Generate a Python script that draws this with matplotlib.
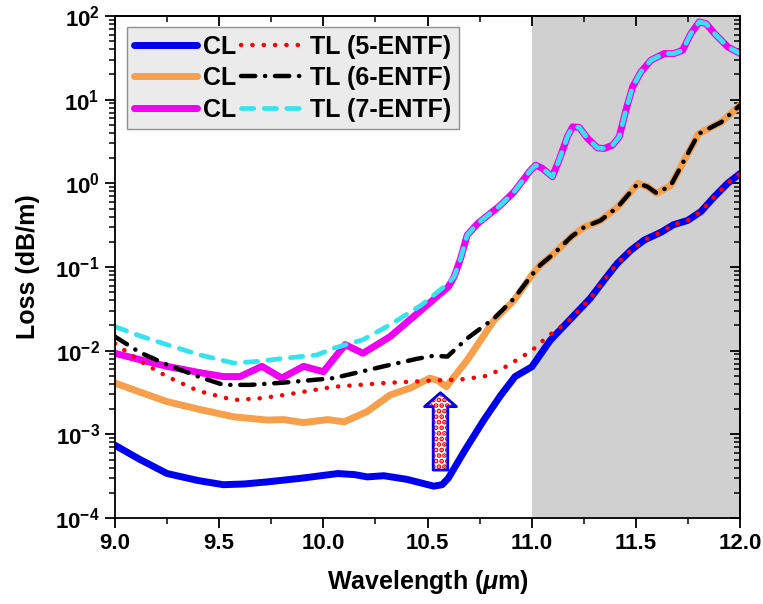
import numpy as np
import matplotlib.pyplot as plt
from matplotlib.ticker import FixedLocator, NullFormatter, FuncFormatter

plt.rcParams['font.family'] = ['Liberation Sans', 'DejaVu Sans']
plt.rcParams['font.weight'] = 'bold'
plt.rcParams['mathtext.fontset'] = 'custom'
plt.rcParams['mathtext.rm'] = 'Liberation Sans:bold'
plt.rcParams['mathtext.bf'] = 'Liberation Sans:bold'
plt.rcParams['mathtext.it'] = 'Liberation Sans:bold:italic'
plt.rcParams['hatch.linewidth'] = 2.5

# CL 5-ENTF (blue)
x_cl5 = [9.0, 9.12, 9.25, 9.4, 9.52, 9.62, 9.73, 9.9, 10.07, 10.15, 10.21, 10.29, 10.4,
         10.53, 10.57, 10.6, 10.68, 10.77, 10.85, 10.92, 11.0, 11.09, 11.18, 11.28, 11.348, 11.41,
         11.476, 11.54, 11.62, 11.68, 11.748, 11.812, 11.876, 11.94, 12.0]
y_cl5 = [7.4e-4, 5.0e-4, 3.4e-4, 2.8e-4, 2.5e-4, 2.55e-4, 2.7e-4, 3.0e-4, 3.4e-4, 3.3e-4, 3.1e-4, 3.2e-4, 2.9e-4,
         2.4e-4, 2.5e-4, 3.0e-4, 6.5e-4, 1.48e-3, 2.9e-3, 4.9e-3, 6.4e-3, 1.34e-2, 2.3e-2, 4.2e-2, 7.0e-2, 0.11,
         0.159, 0.21, 0.26, 0.32, 0.36, 0.46, 0.69, 1.0, 1.31]

# TL 5-ENTF (red dotted)
x_tl5 = [9.0, 9.12, 9.25, 9.4, 9.57, 9.7, 9.81, 10.05, 10.29, 10.53, 10.65, 10.77, 10.85, 10.915,
         11.0, 11.075, 11.18, 11.28, 11.348, 11.41, 11.476, 11.54, 11.62, 11.68, 11.748, 11.812,
         11.876, 11.94, 12.0]
y_tl5 = [1.22e-2, 7.5e-3, 4.9e-3, 3.3e-3, 2.57e-3, 2.7e-3, 2.95e-3, 3.7e-3, 4.1e-3, 4.4e-3, 4.5e-3, 4.9e-3, 5.9e-3, 7.4e-3,
         1.0e-2, 1.47e-2, 2.3e-2, 4.2e-2, 7.0e-2, 0.11, 0.159, 0.21, 0.26, 0.32, 0.36, 0.46,
         0.69, 1.0, 1.31]

# CL 6-ENTF (orange)
x_cl6 = [9.0, 9.12, 9.25, 9.4, 9.57, 9.73, 9.81, 9.905, 10.02, 10.1, 10.21, 10.32, 10.42, 10.51,
         10.55, 10.59, 10.69, 10.82, 10.915, 11.0, 11.04, 11.107, 11.19, 11.252, 11.33, 11.412, 11.51,
         11.556, 11.6, 11.668, 11.732, 11.8, 11.91, 12.0]
y_cl6 = [4.1e-3, 3.2e-3, 2.46e-3, 2.0e-3, 1.62e-3, 1.48e-3, 1.5e-3, 1.38e-3, 1.5e-3, 1.41e-3, 1.87e-3, 2.95e-3, 3.6e-3, 4.7e-3,
         4.4e-3, 3.7e-3, 7.7e-3, 2.33e-2, 4.0e-2, 8.0e-2, 0.105, 0.145, 0.23, 0.30, 0.36, 0.52, 1.0,
         0.91, 0.76, 0.95, 1.89, 3.9, 5.4, 8.6]

# TL 6-ENTF (black dash-dot)
x_tl6 = [9.0, 9.12, 9.25, 9.4, 9.52, 9.65, 9.81, 10.05, 10.29, 10.45, 10.53, 10.595, 10.69, 10.82,
         10.915, 11.0, 11.04, 11.107, 11.19, 11.252, 11.33, 11.412, 11.51, 11.556, 11.6, 11.668,
         11.732, 11.8, 11.91, 12.0]
y_tl6 = [1.47e-2, 9.5e-3, 6.8e-3, 4.9e-3, 3.9e-3, 3.9e-3, 4.15e-3, 4.7e-3, 6.5e-3, 8.0e-3, 8.7e-3, 8.5e-3, 1.4e-2, 2.44e-2,
         4.2e-2, 8.0e-2, 0.105, 0.145, 0.23, 0.30, 0.36, 0.52, 1.0, 0.91, 0.76, 0.95,
         1.89, 3.9, 5.4, 8.6]

# CL 7-ENTF (magenta)
x_cl7 = [9.0, 9.12, 9.25, 9.4, 9.52, 9.6, 9.705, 9.8, 9.905, 10.0, 10.05, 10.105, 10.19, 10.32,
         10.47, 10.6, 10.627, 10.659, 10.69, 10.74, 10.851, 10.915, 10.995, 11.019, 11.051, 11.099,
         11.131, 11.171, 11.196, 11.228, 11.268, 11.316, 11.348, 11.388, 11.42, 11.452, 11.484, 11.524,
         11.572, 11.636, 11.684, 11.724, 11.764, 11.804, 11.837, 11.877, 11.941, 12.0]
y_cl7 = [9.3e-3, 7.8e-3, 6.5e-3, 5.5e-3, 4.9e-3, 4.9e-3, 6.5e-3, 4.7e-3, 6.5e-3, 5.6e-3, 8.0e-3, 1.18e-2, 9.3e-3, 1.47e-2,
         3.06e-2, 5.8e-2, 7.6e-2, 0.127, 0.24, 0.33, 0.55, 0.79, 1.44, 1.65, 1.51, 1.2,
         1.89, 3.6, 4.73, 4.66, 3.44, 2.65, 2.61, 2.86, 3.6, 7.5, 14.2, 21.5,
         29.6, 35.6, 35.6, 39.0, 61.8, 85.0, 81.0, 61.8, 42.7, 35.6]

# TL 7-ENTF (cyan dashed)
x_tl7 = [9.0, 9.12, 9.25, 9.4, 9.57, 9.7, 9.81, 9.97, 10.05, 10.19, 10.32, 10.47, 10.6, 10.627,
         10.659, 10.69, 10.74, 10.851, 10.915, 10.995, 11.019, 11.051, 11.099, 11.131, 11.171, 11.196,
         11.228, 11.268, 11.316, 11.348, 11.388, 11.42, 11.452, 11.484, 11.524, 11.572, 11.636, 11.684,
         11.724, 11.764, 11.804, 11.837, 11.877, 11.941, 12.0]
y_tl7 = [1.94e-2, 1.5e-2, 1.18e-2, 9.0e-3, 7.1e-3, 7.5e-3, 8.1e-3, 8.9e-3, 1.07e-2, 1.35e-2, 2.04e-2, 3.5e-2, 6.4e-2, 7.6e-2,
         0.127, 0.24, 0.33, 0.55, 0.79, 1.44, 1.65, 1.51, 1.2, 1.89, 3.6, 4.73,
         4.66, 3.44, 2.65, 2.61, 2.86, 3.6, 7.5, 14.2, 21.5, 29.6, 35.6, 35.6,
         39.0, 61.8, 85.0, 81.0, 61.8, 42.7, 35.6]

arrow_x = 10.562
arrow_y0, arrow_y1 = 3.74e-4, 3.14e-3

xmaj = [9.0, 9.5, 10.0, 10.5, 11.0, 11.5, 12.0]
xmin = [9.25, 9.75, 10.25, 10.75, 11.25, 11.75]
ymaj = [1e-4, 1e-3, 1e-2, 1e-1, 1e0, 1e1, 1e2]
ymin = [m * d for d in ymaj[:-1] for m in range(2, 10)]

fig = plt.figure(figsize=(7.63, 6.04), dpi=100)
ax = fig.add_axes([0.1507, 0.1424, 0.8193, 0.8311])

ax.axvspan(11.0, 12.0, color='#d0d0d0', lw=0, zorder=0)

l1, = ax.plot(x_cl5, y_cl5, color='#0000f0', lw=5, solid_capstyle='round', solid_joinstyle='round', label='CL')
l2, = ax.plot(x_cl6, y_cl6, color='#f7a04c', lw=5, solid_capstyle='round', solid_joinstyle='round', label='CL')
l3, = ax.plot(x_cl7, y_cl7, color='#f000f0', lw=5, solid_capstyle='round', solid_joinstyle='round', label='CL')
l4, = ax.plot(x_tl5, y_tl5, color='#ff0000', lw=3.2, linestyle=(0, (0.05, 2.5)),
              dash_capstyle='round', label='TL (5-ENTF)')
l5, = ax.plot(x_tl6, y_tl6, color='black', lw=3.2, linestyle=(0, (3.2, 2.2, 0.05, 2.2)),
              dash_capstyle='round', label='TL (6-ENTF)')
l6, = ax.plot(x_tl7, y_tl7, color='#33e4ee', lw=3.4, linestyle=(0, (2.6, 2.2)),
              dash_capstyle='round', label='TL (7-ENTF)')

# arrow with dotted fill
arrow_style = 'simple,head_length=10,head_width=23,tail_width=10.5'
ax.annotate('', xy=(arrow_x, arrow_y1), xytext=(arrow_x, arrow_y0),
            arrowprops=dict(arrowstyle=arrow_style, mutation_scale=1, fc='white', ec='red',
                            hatch='...', lw=0, shrinkA=0, shrinkB=0), zorder=5)
ax.annotate('', xy=(arrow_x, arrow_y1), xytext=(arrow_x, arrow_y0),
            arrowprops=dict(arrowstyle=arrow_style, mutation_scale=1, fc='none', ec='#0000f0',
                            lw=2, shrinkA=0, shrinkB=0), zorder=6)

ax.set_yscale('log')
ax.set_xlim(9.0, 12.0)
ax.set_ylim(1e-4, 1e2)

ax.xaxis.set_major_locator(FixedLocator(xmaj))
ax.xaxis.set_minor_locator(FixedLocator(xmin))
ax.xaxis.set_major_formatter(FuncFormatter(lambda v, p: f'{v:.1f}'))
ax.yaxis.set_major_locator(FixedLocator(ymaj))
ax.yaxis.set_minor_locator(FixedLocator(ymin))
ax.yaxis.set_minor_formatter(NullFormatter())
ax.yaxis.set_major_formatter(FuncFormatter(lambda v, p: r'$\mathbf{10^{%d}}$' % round(np.log10(v))))

ax.tick_params(which='major', direction='out', length=7, width=1.3, labelsize=16, pad=4)
ax.tick_params(which='minor', direction='out', length=4, width=1.1)

top = ax.secondary_xaxis('top')
top.xaxis.set_major_locator(FixedLocator(xmaj))
top.xaxis.set_minor_locator(FixedLocator(xmin))
top.xaxis.set_major_formatter(NullFormatter())
top.xaxis.set_minor_formatter(NullFormatter())
top.tick_params(which='major', direction='in', length=7, width=1.3)
top.tick_params(which='minor', direction='in', length=4, width=1.1)
right = ax.secondary_yaxis('right')
right.yaxis.set_major_locator(FixedLocator(ymaj))
right.yaxis.set_minor_locator(FixedLocator(ymin))
right.yaxis.set_major_formatter(NullFormatter())
right.yaxis.set_minor_formatter(NullFormatter())
right.tick_params(which='major', direction='in', length=7, width=1.3)
right.tick_params(which='minor', direction='in', length=4, width=1.1)
for sp in list(ax.spines.values()) + [top.spines['top'], right.spines['right']]:
    sp.set_linewidth(1.3)

ax.set_xlabel(r'Wavelength ($\mu$m)', fontsize=18, fontweight='bold', labelpad=10)
ax.set_ylabel('Loss (dB/m)', fontsize=18, fontweight='bold', labelpad=11)

leg = ax.legend(handles=[l1, l2, l3, l4, l5, l6], ncol=2, loc='upper left',
                bbox_to_anchor=(0.019, 0.978), borderaxespad=0, fontsize=18,
                handlelength=2.5, handletextpad=0.25, columnspacing=0.2,
                labelspacing=0.3, borderpad=0.3, fancybox=False, framealpha=1,
                facecolor='#ebebeb', edgecolor='#909090')
leg.get_frame().set_linewidth(1.0)

fig.savefig('out.png', dpi=100)
